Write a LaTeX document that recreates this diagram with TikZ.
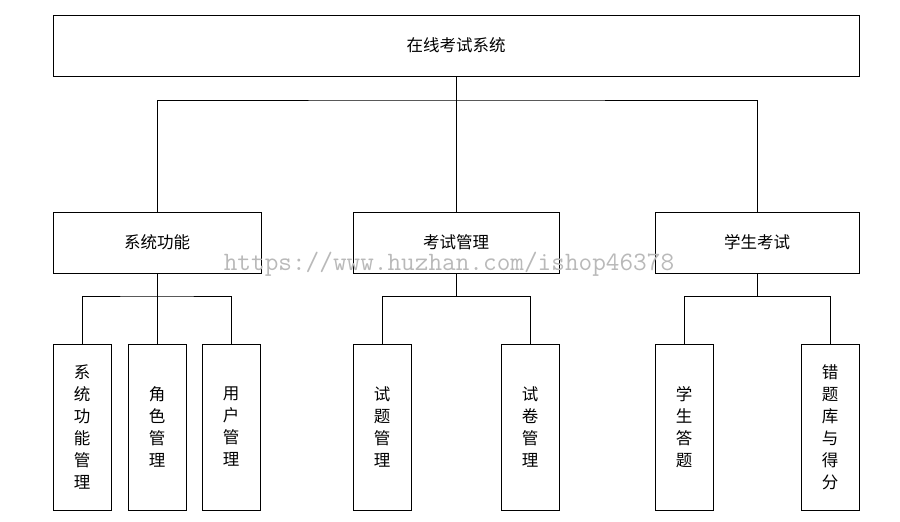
\documentclass[tikz,border=0pt]{standalone}
\usepackage{fontspec}
\newfontfamily\cjk{Noto Sans CJK SC}
\begin{document}
\begin{tikzpicture}[x=1pt,y=-1pt,
  box/.style={draw,line width=1pt,inner sep=0pt,font=\cjk\fontsize{16.5}{18}\selectfont},
  leaf/.style={draw,line width=1pt,inner sep=0pt,minimum width=58pt,minimum height=166pt,align=center,font=\cjk\fontsize{16.5}{22}\selectfont},
  ln/.style={line width=1pt}]
\useasboundingbox (0,0) rectangle (900,522);
\node[box,minimum width=806pt,minimum height=61pt] (root) at (456,45.5) {在线考试系统};
\node[box,minimum width=208pt,minimum height=61pt] (a) at (157,242.5) {系统功能};
\node[box,minimum width=206pt,minimum height=61pt] (b) at (456,242.5) {考试管理};
\node[box,minimum width=204pt,minimum height=61pt] (c) at (757,242.5) {学生考试};
\node[leaf] (a1) at (82,427) {系\\统\\功\\能\\管\\理};
\node[leaf] (a2) at (157,427) {角\\色\\管\\理};
\node[leaf] (a3) at (231,427) {用\\户\\管\\理};
\node[leaf] (b1) at (382,427) {试\\题\\管\\理};
\node[leaf] (b2) at (530,427) {试\\卷\\管\\理};
\node[leaf] (c1) at (684,427) {学\\生\\答\\题};
\node[leaf] (c2) at (830,427) {错\\题\\库\\与\\得\\分};
\draw[ln] (root.south) -- (456,100);
\draw[ln] (a.north) |- (456,100) -| (c.north);
\draw[ln] (456,100) -- (b.north);
\draw[ln] (a.south) -- (157,296);
\draw[ln] (a1.north) |- (157,296) -| (a3.north);
\draw[ln] (157,296) -- (a2.north);
\draw[ln] (b.south) -- (456,296);
\draw[ln] (b1.north) |- (b2.north |- 0,296) -- (b2.north);
\draw[ln] (c.south) -- (757,296);
\draw[ln] (c1.north) |- (c2.north |- 0,296) -- (c2.north);
\node[font=\ttfamily\fontsize{26.5}{27}\selectfont,text=gray!55] (wm) at (449,264) {https://www.huzhan.com/ishop46378};
\end{tikzpicture}
\end{document}
